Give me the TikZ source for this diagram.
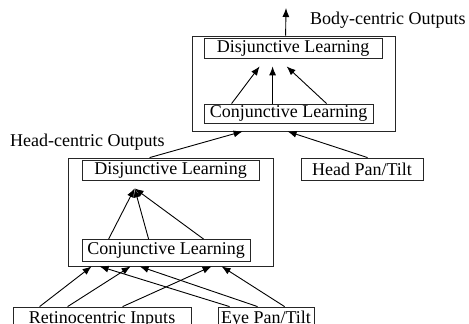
\documentclass[tikz,border=0pt]{standalone}
\usepackage{fontspec}
\setmainfont{Liberation Serif}
\usetikzlibrary{arrows.meta}
\begin{document}
\begin{tikzpicture}[x=1pt,y=-1pt,
  box/.style={draw=black!85,line width=0.8pt,inner sep=0pt,anchor=center,
    font=\fontsize{18}{21}\selectfont},
  frame/.style={draw=black!85,line width=0.8pt,inner sep=0pt,anchor=center},
  lbl/.style={inner sep=0pt,anchor=west,font=\fontsize{18}{21}\selectfont},
  conn/.style={line width=0.9pt,-{Latex[length=9pt,width=7pt]}}]
\useasboundingbox (0,0) rectangle (469,324);
\clip (0,0) rectangle (469,324);
% frames
\node[frame,minimum width=203pt,minimum height=95pt] (topouter) at (293.5,83.5) {};
\node[frame,minimum width=205pt,minimum height=108pt] (lowouter) at (170.5,212) {};
% boxes
\node[box,minimum width=178pt,minimum height=20pt] (topdisj) at (293,48) {Disjunctive Learning};
\node[box,minimum width=169pt,minimum height=19pt] (topconj) at (288.5,113.5) {Conjunctive Learning};
\node[box,minimum width=177pt,minimum height=20pt] (lowdisj) at (170.5,170) {Disjunctive Learning};
\node[box,minimum width=168pt,minimum height=22pt] (lowconj) at (166,250.5) {Conjunctive Learning};
\node[box,minimum width=122pt,minimum height=22pt] (headpan) at (362,169) {Head Pan/Tilt};
\node[box,minimum width=178pt,minimum height=24pt] (retino) at (102,319) {Retinocentric Inputs};
\node[box,minimum width=96pt,minimum height=24pt] (eyepan) at (266,319) {Eye Pan/Tilt};
% labels
\node[lbl] (bodylbl) at (310,20) {Body-centric Outputs};
\node[lbl] (headlbl) at (10,142) {Head-centric Outputs};
\coordinate (bodyout) at (286,8);
% top output
\draw[conn] ([xshift=94pt]topouter.north west) -- (bodyout);
% top inner arrows
\draw[conn] ([xshift=28pt]topconj.north west) -- ([xshift=56pt,yshift=-8pt]topdisj.south west);
\draw[conn] ([xshift=69pt]topconj.north west) -- ([xshift=69pt,yshift=-8pt]topdisj.south west);
\draw[conn] ([xshift=123pt]topconj.north west) -- ([xshift=83pt,yshift=-8pt]topdisj.south west);
% into top frame
\draw[conn] ([xshift=82pt]lowouter.north west) -- ([xshift=51pt]topouter.south west);
\draw[conn] ([xshift=67pt]headpan.north west) -- ([xshift=96pt]topouter.south west);
% lower inner arrows
\draw[conn] ([xshift=27pt]lowconj.north west) -- ([xshift=53pt,yshift=-8pt]lowdisj.south west);
\draw[conn] ([xshift=67pt]lowconj.north west) -- ([xshift=53pt,yshift=-8pt]lowdisj.south west);
\draw[conn] ([xshift=122pt]lowconj.north west) -- ([xshift=53pt,yshift=-8pt]lowdisj.south west);
% inputs
\draw[conn] ([xshift=27pt]retino.north west) -- ([xshift=24pt]lowouter.south west);
\draw[conn] ([xshift=55pt]retino.north west) -- ([xshift=63pt]lowouter.south west);
\draw[conn] ([xshift=110pt]retino.north west) -- ([xshift=144pt]lowouter.south west);
\draw[conn] ([xshift=12pt]eyepan.north west) -- ([xshift=32pt]lowouter.south west);
\draw[conn] ([xshift=40pt]eyepan.north west) -- ([xshift=72pt]lowouter.south west);
\draw[conn] ([xshift=67pt]eyepan.north west) -- ([xshift=154pt]lowouter.south west);
\end{tikzpicture}
\end{document}
